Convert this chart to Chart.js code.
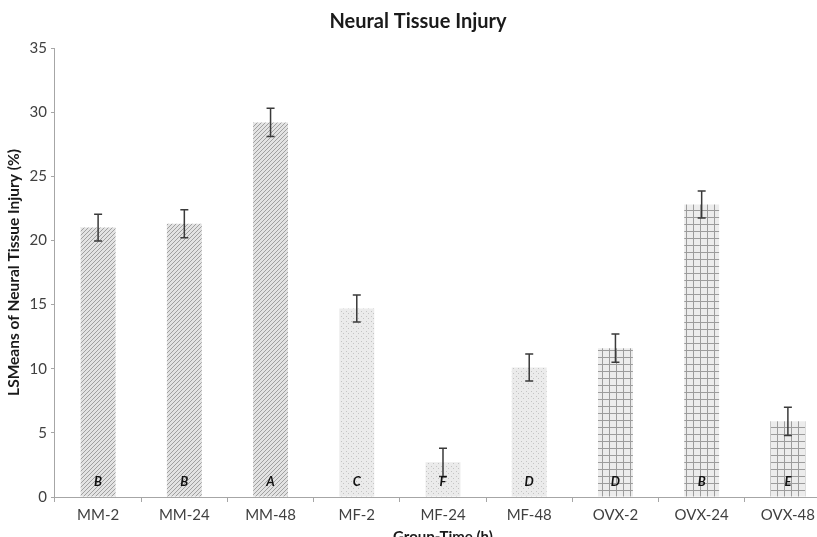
<!DOCTYPE html>
<html>
<head>
<meta charset="utf-8">
<script src="https://cdn.jsdelivr.net/npm/chart.js@4.4.0/dist/chart.umd.min.js"></script>
<style>
  html, body { margin: 0; padding: 0; background: #fff; overflow: hidden; }
  #wrap { position: relative; width: 846px; height: 546px; }
</style>
</head>
<body>
<div id="wrap"><canvas id="myChart"></canvas></div>
<script>
// values
const groups = ['MM-2', 'MM-24', 'MM-48', 'MF-2', 'MF-24', 'MF-48', 'OVX-2', 'OVX-24', 'OVX-48']
const lsMeans = [21.0, 21.3, 29.2, 14.7, 2.7, 10.1, 11.6, 22.8, 5.9]
const stdErr = [1.05, 1.1, 1.1, 1.05, 1.1, 1.05, 1.1, 1.05, 1.1]
const letters = ['B', 'B', 'A', 'C', 'F', 'D', 'D', 'B', 'E']
const fillKind = ['hatch', 'hatch', 'hatch', 'dots', 'dots', 'dots', 'grid', 'grid', 'grid']
const yTicks = [0, 5, 10, 15, 20, 25, 30, 35]

const FONT = 'Lato, "Open Sans", sans-serif'

function makePattern(kind) {
    let c = document.createElement('canvas')
    let g = c.getContext('2d')
    if (kind == 'hatch') {
        c.width = 4; c.height = 4
        g.fillStyle = '#e3e3e3'
        g.fillRect(0, 0, 4, 4)
        g.strokeStyle = '#a0a0a0'
        g.lineWidth = 1
        g.beginPath()
        g.moveTo(-1, 5); g.lineTo(5, -1)
        g.moveTo(-1, 1); g.lineTo(1, -1)
        g.moveTo(3, 5); g.lineTo(5, 3)
        g.stroke()
    } else if (kind == 'dots') {
        c.width = 5; c.height = 5
        g.fillStyle = '#ebebeb'
        g.fillRect(0, 0, 5, 5)
        g.fillStyle = '#c4c4c4'
        g.fillRect(1, 1, 1, 1)
        g.fillRect(3, 3, 1, 1)
    } else {
        c.width = 7; c.height = 7
        g.fillStyle = '#ececec'
        g.fillRect(0, 0, 7, 7)
        g.fillStyle = '#9c9c9c'
        g.fillRect(0, 0, 7, 1)
        g.fillRect(0, 0, 1, 7)
    }
    return g.createPattern(c, 'repeat')
}

const errorBars = {
    id: 'errorBars',
    afterDatasetsDraw(chart) {
        const ctx = chart.ctx
        const yScale = chart.scales.y
        const meta = chart.getDatasetMeta(0)
        ctx.save()
        meta.data.forEach(function (bar, i) {
            let x = bar.x
            let top = yScale.getPixelForValue(lsMeans[i] + stdErr[i])
            let bottom = yScale.getPixelForValue(lsMeans[i] - stdErr[i])
            ctx.strokeStyle = '#3a3a3a'
            ctx.lineWidth = 1.5
            ctx.beginPath()
            ctx.moveTo(x, top); ctx.lineTo(x, bottom)
            ctx.moveTo(x - 4, top); ctx.lineTo(x + 4, top)
            ctx.moveTo(x - 4, bottom); ctx.lineTo(x + 4, bottom)
            ctx.stroke()

            ctx.fillStyle = '#111'
            ctx.font = 'italic bold 13px ' + FONT
            ctx.textAlign = 'center'
            ctx.textBaseline = 'middle'
            ctx.fillText(letters[i], x, yScale.getPixelForValue(0) - 15)
        })
        ctx.restore()
    }
}

const ctx = document.getElementById('myChart').getContext('2d')

var chart = new Chart(ctx, {
    type: 'bar',
    data: {
        labels: groups,
        datasets: [{
            data: lsMeans,
            backgroundColor: fillKind.map(makePattern),
            borderWidth: 0,
            categoryPercentage: 1,
            barPercentage: 0.405
        }]
    },
    options: {
        responsive: true,
        maintainAspectRatio: false,
        animation: false,
        layout: { padding: { left: 5, right: 15, top: 0, bottom: 0 } },
        plugins: {
            legend: { display: false },
            tooltip: { enabled: false },
            title: {
                display: true,
                text: 'Neural Tissue Injury',
                color: '#1a1a1a',
                font: { family: FONT, size: 20, weight: 'bold' },
                padding: { top: 10, bottom: 14 }
            }
        },
        scales: {
            x: {
                border: { display: true, color: '#a6a6a6', width: 1 },
                grid: { display: true, drawOnChartArea: false, color: '#a6a6a6', tickLength: 5, offset: true },
                ticks: { color: '#404040', font: { family: FONT, size: 15 }, padding: 4, maxRotation: 0 },
                title: {
                    display: true,
                    text: 'Group-Time (h)',
                    color: '#1a1a1a',
                    font: { family: FONT, size: 15, weight: 'bold' },
                    padding: { top: 0, bottom: 0 }
                }
            },
            y: {
                min: 0,
                max: 35,
                afterBuildTicks: function (axis) { axis.ticks = yTicks.map(v => ({ value: v })) },
                border: { display: true, color: '#a6a6a6', width: 1 },
                grid: { display: true, drawOnChartArea: false, color: '#a6a6a6', tickLength: 4 },
                ticks: { color: '#404040', font: { family: FONT, size: 15 }, padding: 4 },
                title: {
                    display: true,
                    text: 'LSMeans of Neural Tissue Injury (%)',
                    color: '#1a1a1a',
                    font: { family: FONT, size: 15.5, weight: 'bold' },
                    padding: { top: 0, bottom: 2 }
                }
            }
        }
    },
    plugins: [errorBars]
});
</script>
</body>
</html>
